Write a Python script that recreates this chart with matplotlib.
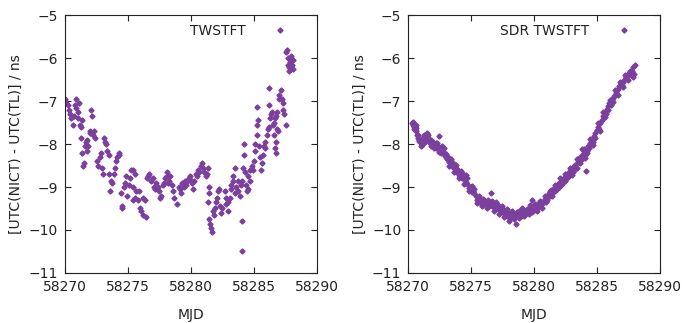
import matplotlib.pyplot as plt

# TWSTFT (left panel): MJD and UTC(NICT)-UTC(TL) in ns
mjd_tw = [
    58270.00, 58270.10, 58270.25, 58270.30, 58270.40, 58270.50, 58270.60, 58270.70,
    58270.75, 58270.85, 58270.90, 58271.00, 58271.05, 58271.10, 58271.20, 58271.30,
    58271.35, 58271.25, 58271.35, 58271.40, 58271.50, 58271.60, 58271.65, 58271.70,
    58271.75, 58271.85, 58271.95, 58272.00, 58272.05, 58272.10, 58272.20, 58272.30,
    58272.40, 58272.55, 58272.65, 58272.75, 58272.85, 58272.95, 58273.00, 58273.10,
    58273.20, 58273.25, 58273.35, 58273.45, 58273.50, 58273.60, 58273.65, 58273.75,
    58273.85, 58273.95, 58274.05, 58274.15, 58274.25, 58274.30, 58274.40, 58274.50,
    58274.55, 58274.65, 58274.75, 58274.85, 58274.95, 58275.05, 58275.15, 58275.25,
    58275.35, 58275.40, 58275.55, 58275.65, 58275.75, 58275.85, 58275.95, 58276.05,
    58276.15, 58276.20, 58276.35, 58276.45, 58275.40, 58275.55, 58276.50, 58276.55,
    58276.65, 58276.80, 58276.95, 58277.05, 58277.15, 58277.25, 58277.35, 58277.45,
    58277.55, 58277.65, 58277.75, 58277.85, 58277.95, 58278.05, 58278.10, 58278.15,
    58278.25, 58278.35, 58278.45, 58278.55, 58278.65, 58278.90, 58279.00, 58279.10,
    58279.20, 58279.30, 58279.40, 58279.50, 58279.60, 58279.70, 58279.80, 58279.90,
    58280.00, 58280.10, 58280.15, 58280.25, 58280.35, 58280.45, 58280.55, 58280.65,
    58280.75, 58280.85, 58280.95, 58281.05, 58281.15, 58281.25, 58281.30, 58281.40,
    58281.45, 58281.30, 58281.40, 58281.50, 58281.55, 58281.65, 58281.75, 58281.80,
    58281.90, 58281.95, 58282.05, 58282.15, 58282.20, 58282.30, 58282.40, 58282.45,
    58282.65, 58282.75, 58282.80, 58282.90, 58282.95, 58283.05, 58283.15, 58283.20,
    58283.30, 58283.35, 58283.45, 58283.50, 58283.60, 58283.70, 58283.75, 58283.85,
    58283.95, 58284.05, 58284.10, 58284.20, 58284.20, 58284.30, 58284.35, 58284.45,
    58284.50, 58284.55, 58284.05, 58284.05, 58284.65, 58284.70, 58284.80, 58284.90,
    58284.95, 58285.05, 58285.10, 58285.20, 58285.25, 58285.30, 58285.40, 58285.45,
    58285.55, 58285.60, 58285.70, 58285.80, 58285.85, 58285.90, 58286.00, 58286.10,
    58286.15, 58286.25, 58286.35, 58286.40, 58286.50, 58286.60, 58286.65, 58286.70,
    58286.75, 58286.85, 58286.20, 58285.20, 58286.20, 58286.55, 58286.65, 58286.75,
    58286.85, 58286.95, 58287.00, 58287.15, 58287.20, 58287.30, 58287.40, 58287.50,
    58286.90, 58287.30, 58287.55, 58287.60, 58287.65, 58287.70, 58287.75, 58287.80,
    58287.85, 58287.90, 58287.95, 58288.00, 58288.05, 58288.10,
]
tw = [
    -6.95, -7.05, -7.10, -7.20, -7.30, -7.40, -7.55, -7.35,
    -7.10, -6.95, -7.15, -7.25, -7.40, -7.05, -7.55, -7.60,
    -7.45, -7.85, -8.20, -8.50, -8.45, -8.05, -7.95, -7.90,
    -8.15, -8.05, -7.75, -7.70, -7.20, -7.35, -7.80, -7.70,
    -7.85, -8.40, -8.50, -8.30, -8.20, -8.55, -8.70, -7.85,
    -7.95, -8.00, -8.15, -8.25, -8.70, -9.10, -8.85, -8.90,
    -8.70, -8.55, -8.40, -8.30, -8.25, -8.20, -9.15, -9.45,
    -9.50, -9.00, -8.90, -8.75, -9.20, -8.95, -8.80, -8.60,
    -9.30, -9.00, -9.25, -9.10, -9.30, -9.10, -9.50, -9.55,
    -9.65, -9.25, -9.30, -9.70, -8.60, -8.70, -8.80, -8.75,
    -8.70, -8.85, -8.80, -9.00, -9.05, -8.90, -9.00, -9.10,
    -9.25, -9.20, -8.95, -8.90, -8.80, -8.65, -8.75, -8.90,
    -8.85, -8.75, -8.95, -9.10, -9.25, -9.40, -9.00, -9.05,
    -9.15, -8.90, -9.00, -8.85, -8.95, -8.85, -8.80, -8.75,
    -8.85, -8.90, -9.05, -8.85, -8.70, -8.75, -8.60, -8.65,
    -8.50, -8.45, -8.55, -8.65, -8.75, -8.70, -8.55, -9.00,
    -9.15, -9.35, -9.75, -9.85, -9.95, -10.05, -9.55, -9.65,
    -9.50, -9.35, -9.25, -9.10, -9.05, -9.45, -9.60, -9.50,
    -9.10, -9.25, -9.40, -9.55, -9.35, -9.25, -9.05, -8.95,
    -8.75, -8.85, -8.55, -9.15, -9.00, -8.85, -9.10, -9.20,
    -8.95, -8.85, -8.55, -8.25, -8.00, -8.65, -8.95, -9.10,
    -9.05, -8.75, -9.80, -10.50, -8.85, -8.60, -8.50, -8.60,
    -8.40, -8.15, -8.00, -7.80, -7.55, -7.45, -8.05, -8.30,
    -8.60, -8.45, -8.25, -8.05, -7.95, -8.10, -7.80, -7.65,
    -7.60, -7.40, -7.30, -7.25, -7.55, -7.80, -8.10, -8.20,
    -7.95, -7.65, -7.10, -7.13, -6.70, -7.50, -7.40, -7.35,
    -7.25, -6.95, -6.85, -6.75, -6.95, -7.05, -7.30, -7.55,
    -7.70, -7.20, -5.85, -5.80, -6.00, -6.15, -6.20, -6.30,
    -6.10, -6.00, -5.95, -6.15, -6.25, -6.05,
]

# SDR TWSTFT (right panel), first pass of samples
mjd_sdr = [
    58270.30, 58270.35, 58270.40, 58270.45, 58270.50, 58270.55, 58270.60, 58270.65,
    58270.70, 58270.75, 58270.80, 58270.85, 58270.90, 58271.00, 58271.05, 58271.10,
    58271.15, 58271.25, 58271.30, 58271.40, 58271.50, 58271.55, 58271.60, 58271.70,
    58271.80, 58271.90, 58272.00, 58272.10, 58272.20, 58272.30, 58272.40, 58272.45,
    58272.55, 58272.65, 58272.75, 58272.85, 58272.95, 58273.05, 58273.15, 58273.25,
    58273.35, 58273.45, 58273.55, 58273.65, 58273.75, 58273.85, 58273.95, 58274.05,
    58274.15, 58274.25, 58274.35, 58274.45, 58274.55, 58274.65, 58274.75, 58274.85,
    58274.95, 58275.05, 58275.15, 58275.25, 58275.35, 58275.45, 58275.55, 58275.65,
    58275.75, 58275.85, 58275.95, 58276.05, 58276.15, 58276.25, 58276.35, 58276.45,
    58276.55, 58276.65, 58276.75, 58276.85, 58276.95, 58277.05, 58277.15, 58277.25,
    58277.35, 58277.45, 58277.55, 58277.65, 58277.75, 58277.85, 58277.95, 58278.05,
    58278.15, 58278.25, 58278.35, 58278.45, 58278.55, 58278.65, 58278.75, 58278.85,
    58278.95, 58279.05, 58279.15, 58279.25, 58279.35, 58279.45, 58279.55, 58279.65,
    58279.75, 58279.85, 58279.95, 58280.05, 58280.15, 58280.25, 58280.35, 58280.45,
    58280.55, 58280.65, 58280.75, 58280.85, 58280.95, 58281.05, 58281.15, 58281.25,
    58281.35, 58281.45, 58281.55, 58281.65, 58281.75, 58281.85, 58281.95, 58282.05,
    58282.15, 58282.25, 58282.35, 58282.45, 58282.55, 58282.65, 58282.75, 58282.85,
    58282.95, 58283.05, 58283.15, 58283.25, 58283.35, 58283.45, 58283.55, 58283.65,
    58283.75, 58283.85, 58283.95, 58284.05, 58284.10, 58284.15, 58284.25, 58284.35,
    58284.45, 58284.55, 58284.65, 58284.75, 58284.85, 58284.95, 58285.05, 58285.15,
    58285.25, 58285.35, 58285.45, 58285.55, 58285.65, 58285.75, 58285.85, 58285.95,
    58286.05, 58286.15, 58286.25, 58286.35, 58286.45, 58286.55, 58286.65, 58286.75,
    58286.85, 58286.95, 58287.05, 58287.15, 58287.25, 58287.35, 58287.45, 58287.55,
    58287.65, 58287.75, 58287.85, 58287.90, 58287.95,
]
sdr = [
    -7.50, -7.55, -7.48, -7.60, -7.58, -7.65, -7.70, -7.62,
    -7.78, -7.85, -7.80, -7.90, -7.95, -7.88, -7.92, -8.02,
    -7.85, -7.80, -7.95, -7.90, -7.75, -7.78, -7.85, -7.98,
    -7.90, -8.00, -7.95, -8.05, -8.10, -7.98, -8.08, -7.82,
    -8.12, -8.05, -8.15, -8.20, -8.28, -8.35, -8.30, -8.42,
    -8.38, -8.50, -8.45, -8.55, -8.62, -8.58, -8.68, -8.72,
    -8.65, -8.78, -8.70, -8.82, -8.88, -8.80, -8.95, -9.02,
    -9.05, -8.98, -9.10, -9.15, -9.22, -9.30, -9.25, -9.35,
    -9.32, -9.40, -9.28, -9.38, -9.35, -9.42, -9.30, -9.38,
    -9.15, -9.45, -9.40, -9.48, -9.35, -9.50, -9.42, -9.55,
    -9.48, -9.58, -9.52, -9.62, -9.55, -9.68, -9.60, -9.72,
    -9.65, -9.58, -9.70, -9.62, -9.85, -9.66, -9.55, -9.62,
    -9.68, -9.58, -9.65, -9.55, -9.60, -9.52, -9.62, -9.50,
    -9.55, -9.30, -9.48, -9.52, -9.42, -9.50, -9.38, -9.45,
    -9.35, -9.40, -9.32, -9.28, -9.35, -9.22, -9.15, -9.20,
    -9.08, -9.12, -9.02, -9.10, -8.98, -8.92, -9.00, -8.88,
    -8.95, -8.82, -8.78, -8.85, -8.72, -8.68, -8.75, -8.62,
    -8.58, -8.65, -8.52, -8.48, -8.55, -8.42, -8.38, -8.30,
    -8.35, -8.22, -8.12, -8.25, -8.62, -8.15, -8.05, -8.10,
    -7.98, -7.90, -7.95, -7.82, -7.75, -7.68, -7.60, -7.65,
    -7.52, -7.45, -7.35, -7.28, -7.30, -7.18, -7.12, -7.05,
    -7.08, -6.98, -6.92, -6.88, -6.80, -6.75, -6.72, -6.65,
    -6.60, -6.62, -6.55, -6.50, -6.45, -6.42, -6.38, -6.35,
    -6.40, -6.30, -6.20, -6.38, -6.15,
]

# SDR TWSTFT, second pass of samples (the wider scatter around the trend)
mjd_sdr_b = [
    58270.42, 58270.62, 58270.82, 58271.02, 58271.22, 58271.42, 58271.62, 58271.82,
    58272.02, 58272.22, 58272.42, 58272.62, 58272.82, 58273.02, 58273.22, 58273.42,
    58273.62, 58273.82, 58274.02, 58274.22, 58274.42, 58274.62, 58274.82, 58275.02,
    58275.22, 58275.42, 58275.62, 58275.82, 58276.02, 58276.22, 58276.42, 58276.62,
    58276.82, 58277.02, 58277.22, 58277.42, 58277.62, 58277.82, 58278.02, 58278.22,
    58278.42, 58278.62, 58278.82, 58279.02, 58279.22, 58279.42, 58279.62, 58279.82,
    58280.02, 58280.22, 58280.42, 58280.62, 58280.82, 58281.02, 58281.22, 58281.42,
    58281.62, 58281.82, 58282.02, 58282.22, 58282.42, 58282.62, 58282.82, 58283.02,
    58283.22, 58283.42, 58283.62, 58283.82, 58284.02, 58284.22, 58284.42, 58284.62,
    58284.82, 58285.02, 58285.22, 58285.42, 58285.62, 58285.82, 58286.02, 58286.22,
    58286.42, 58286.62, 58286.82, 58287.02, 58287.22, 58287.42, 58287.62, 58287.82,
]
sdr_b = [
    -7.65, -7.55, -7.92, -8.05, -7.95, -7.82, -7.92, -8.05,
    -8.10, -7.98, -8.18, -8.20, -8.10, -8.22, -8.50, -8.35,
    -8.65, -8.48, -8.80, -8.62, -8.92, -8.72, -9.10, -9.12,
    -9.05, -9.38, -9.20, -9.45, -9.30, -9.50, -9.45, -9.32,
    -9.55, -9.42, -9.62, -9.45, -9.70, -9.52, -9.78, -9.55,
    -9.75, -9.58, -9.72, -9.50, -9.68, -9.60, -9.42, -9.58,
    -9.40, -9.55, -9.32, -9.48, -9.20, -9.30, -9.10, -9.20,
    -8.95, -9.05, -8.80, -8.92, -8.70, -8.80, -8.55, -8.72,
    -8.58, -8.35, -8.45, -8.12, -8.32, -8.20, -7.88, -8.02,
    -7.85, -7.52, -7.70, -7.25, -7.38, -7.20, -6.98, -7.02,
    -6.75, -6.85, -6.55, -6.68, -6.40, -6.52, -6.30, -6.45,
]

panels = [
    (mjd_tw, tw, "TWSTFT"),
    (mjd_sdr + mjd_sdr_b, sdr + sdr_b, "SDR TWSTFT"),
]
color = "#7b3f9e"
txt = "#222222"

fig = plt.figure(figsize=(6.85, 3.23), dpi=100)
lefts = [0.095, 0.596]
for (x, y, name), left in zip(panels, lefts):
    ax = fig.add_axes([left, 0.155, 0.368, 0.798])
    ax.plot(x, y, linestyle="none", marker="D", markersize=2.6,
            color=color, label=name)
    ax.set_xlim(58270, 58290)
    ax.set_ylim(-11, -5)
    ax.set_xticks([58270, 58275, 58280, 58285, 58290])
    ax.set_yticks([-11, -10, -9, -8, -7, -6, -5])
    ax.tick_params(direction="in", top=True, right=True, length=4,
                   labelsize=10, colors=txt, pad=5)
    for s in ax.spines.values():
        s.set_color(txt)
    ax.set_xlabel("MJD", fontsize=10, color=txt, labelpad=10)
    ax.set_ylabel("[UTC(NICT) - UTC(TL)] / ns", fontsize=10, color=txt)
    ax.legend(loc="upper right", bbox_to_anchor=(0.915, 1.0), frameon=False,
              markerfirst=False, fontsize=10, handlelength=1.0,
              handletextpad=2.0, borderaxespad=0.2, labelcolor=txt)

plt.savefig("out.png", dpi=100)
